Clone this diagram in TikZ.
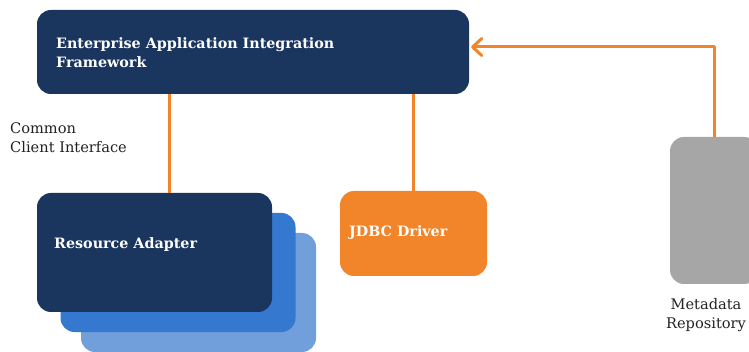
\documentclass[tikz,border=0pt]{standalone}
\usepackage{fontspec}
\setmainfont{DejaVu Serif}
\usetikzlibrary{arrows.meta}
\definecolor{navy}{HTML}{1A365F}
\definecolor{midblue}{HTML}{3578D0}
\definecolor{lightblue}{HTML}{709FDC}
\definecolor{orng}{HTML}{F28429}
\definecolor{greybox}{HTML}{A6A6A6}
\definecolor{txt}{HTML}{222222}
\tikzset{
  box/.style={rounded corners=14pt, inner sep=0pt, draw=none},
  boxtext/.style={text=white, font=\bfseries\fontsize{14.3}{19}\selectfont, inner sep=0pt, anchor=west, align=left},
  plain/.style={text=txt, font=\fontsize{14.6}{19}\selectfont, inner sep=0pt},
  conn/.style={draw=orng, line width=3pt}
}
\begin{document}
\begin{tikzpicture}[x=1pt,y=1pt]
\useasboundingbox (0,0) rectangle (749,-352);
\clip (0,0) rectangle (749,-352);
% EAI framework
\node[box, fill=navy, minimum width=432, minimum height=84] (eai) at (253,-52) {};
\node[boxtext] (eait) at (56,-53) {Enterprise Application Integration\\Framework};
% stacked resource adapters
\node[box, fill=lightblue, minimum width=235, minimum height=119] (ra3) at (198.5,-292.5) {};
\node[box, fill=midblue, minimum width=235, minimum height=119] (ra2) at (178,-272.5) {};
\node[box, fill=navy, minimum width=235, minimum height=119] (ra) at (154.5,-252.5) {};
\node[boxtext] (rat) at (54,-245) {Resource Adapter};
% JDBC driver
\node[box, fill=orng, minimum width=147, minimum height=85] (jdbc) at (413.5,-233.5) {};
\node[boxtext] (jdbct) at (349,-233) {JDBC Driver};
% metadata repository
\node[box, fill=greybox, minimum width=88, minimum height=147] (meta) at (714,-210.5) {};
\node[plain, align=center, anchor=north] (metat) at (706,-298) {Metadata\\Repository};
% CCI label
\node[plain, align=left, anchor=north west] (cci) at (10,-122) {Common\\Client Interface};
% connectors
\draw[conn] (eai.south -| 169,0) -- (ra.north -| 169,0);
\draw[conn] (eai.south -| 413,0) -- (jdbc.north -| 413,0);
\coordinate (corner) at (714,-47);
\draw[conn, -{Straight Barb[length=9pt,width=17pt,line cap=round,line join=round]}, line join=round] (meta.north) -- (corner) -- ([xshift=2pt]eai.east |- corner);
\end{tikzpicture}
\end{document}
